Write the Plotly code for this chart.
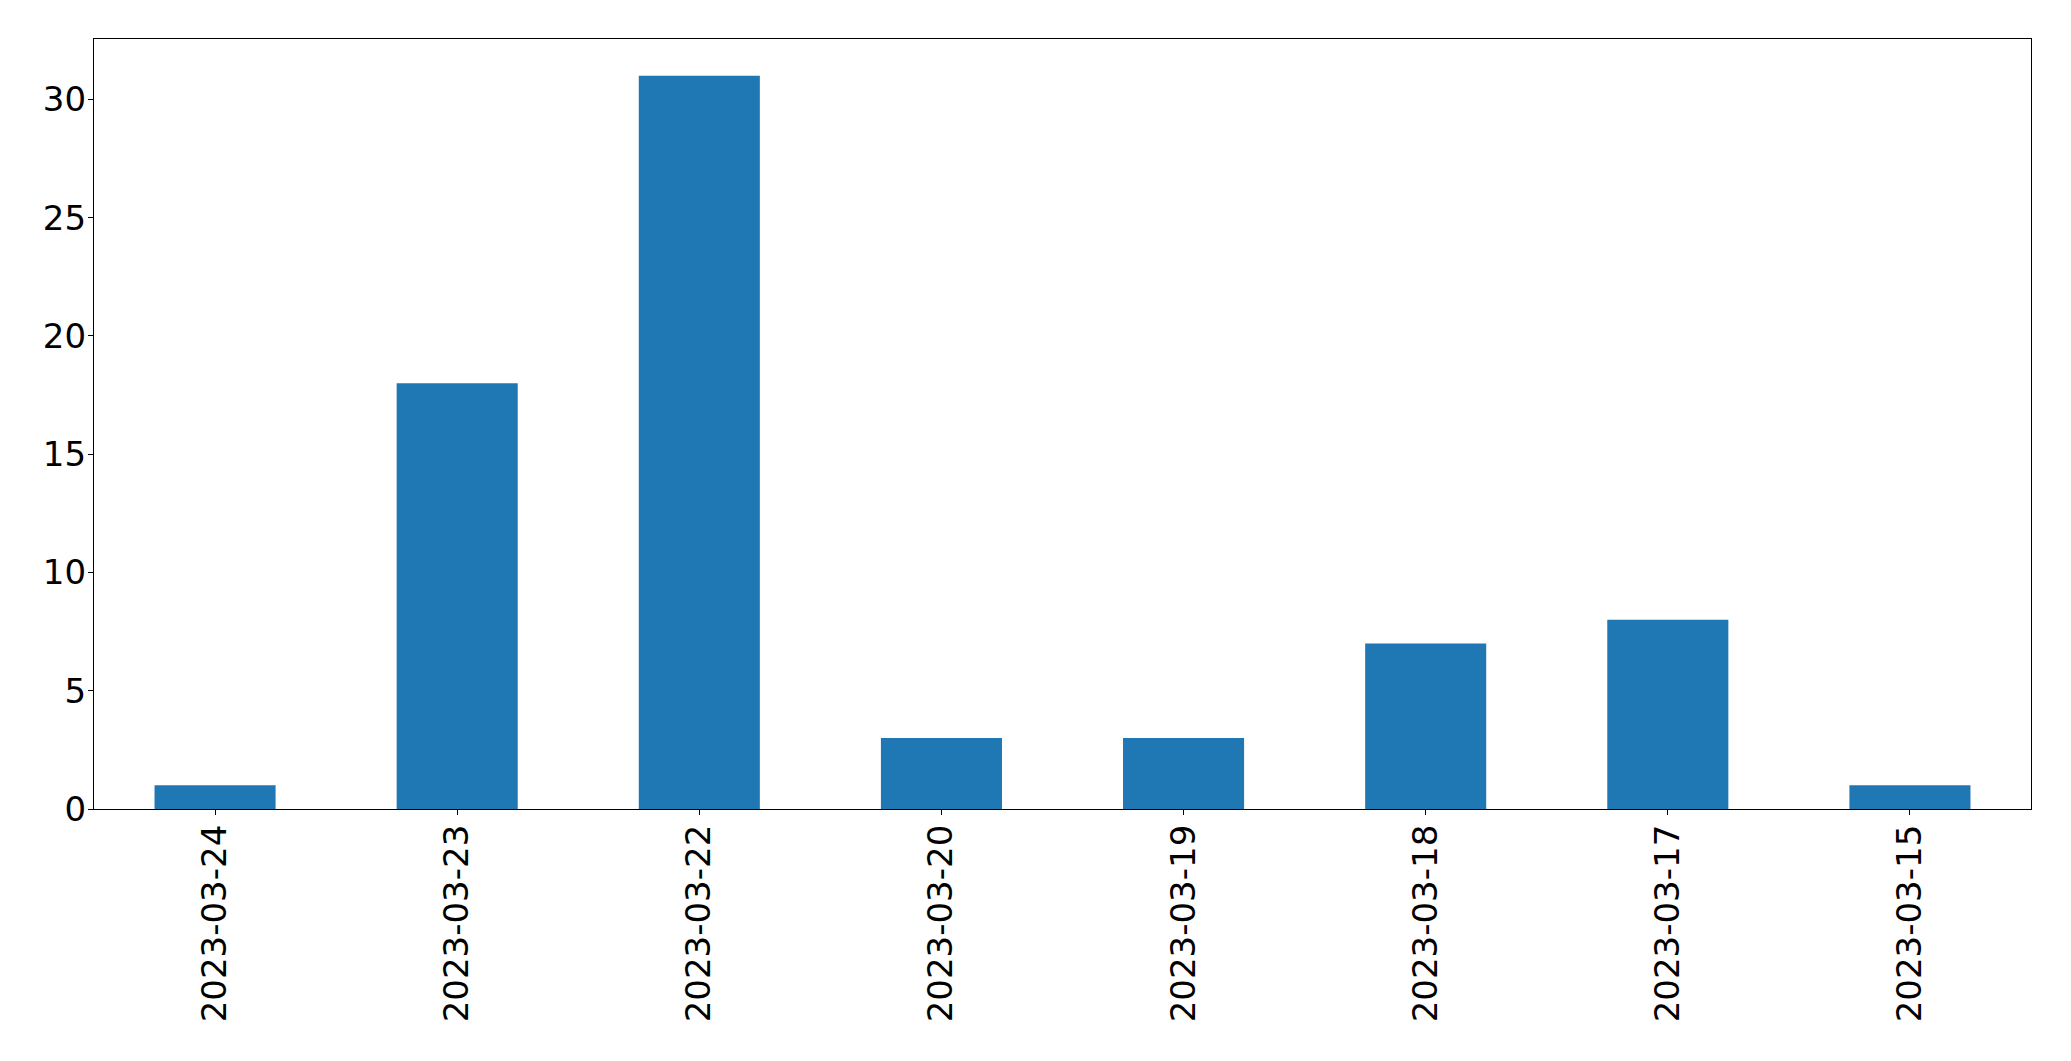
import plotly.graph_objects as go

dates = ["2023-03-24", "2023-03-23", "2023-03-22", "2023-03-20",
         "2023-03-19", "2023-03-18", "2023-03-17", "2023-03-15"]
counts = [1, 18, 31, 3, 3, 7, 8, 1]

fig = go.Figure(go.Bar(x=dates, y=counts, marker_color="#1f77b4",
                       marker_line_width=0, width=0.5))

fig.update_layout(
    width=2063, height=1053,
    margin=dict(l=86, r=40, t=31, b=252),
    plot_bgcolor="white", paper_bgcolor="white",
    font=dict(family="DejaVu Sans", size=34, color="black"),
    showlegend=False,
)
fig.update_xaxes(type="category", range=[-0.5, 7.5], tickangle=-90,
                 showline=True, linecolor="black", linewidth=1.3, mirror=True,
                 ticks="outside", ticklen=5, tickwidth=1.3, tickcolor="black",
                 ticklabelstandoff=-4,
                 showgrid=False, zeroline=False, automargin=False)
fig.update_yaxes(range=[0, 32.55], tickvals=[0, 5, 10, 15, 20, 25, 30],
                 showline=True, linecolor="black", linewidth=1.3, mirror=True,
                 ticks="outside", ticklen=5, tickwidth=1.3, tickcolor="black",
                 ticklabelstandoff=-5,
                 showgrid=False, zeroline=False, automargin=False)

fig.write_html("out.html")
